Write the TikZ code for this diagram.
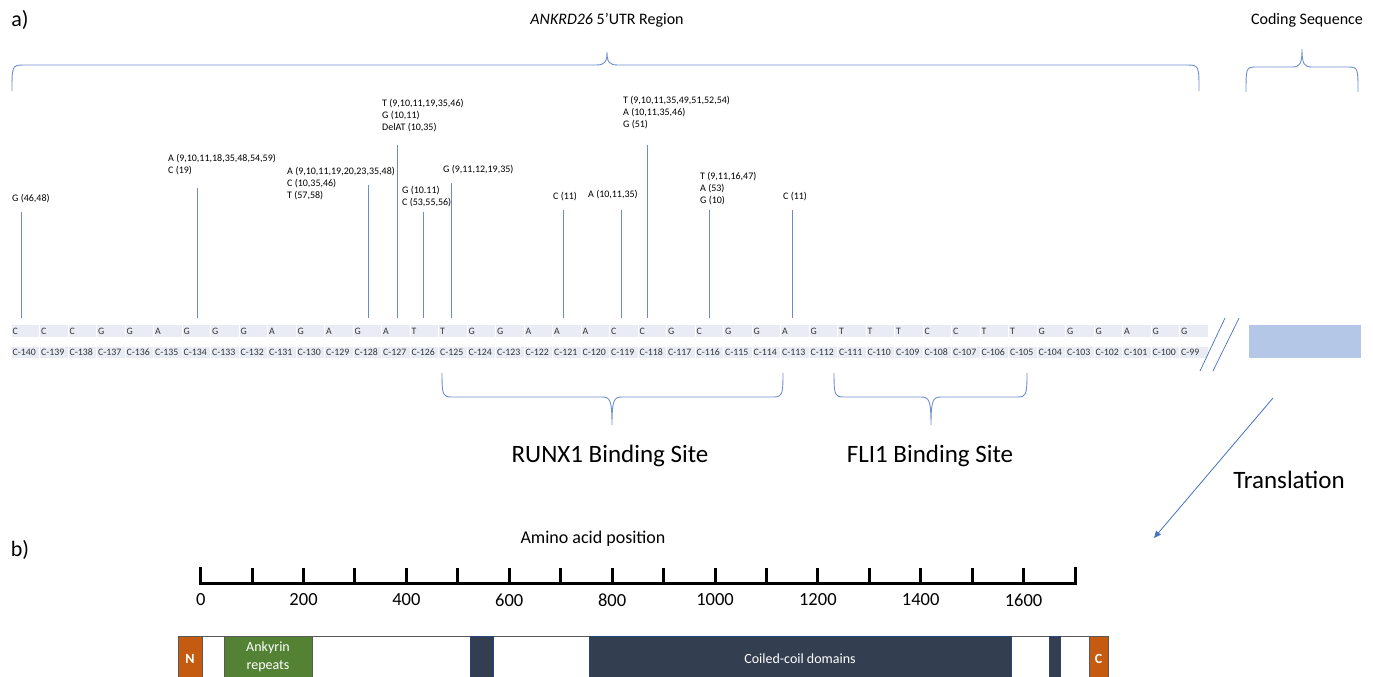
\documentclass[tikz,border=0pt]{standalone}
\usepackage{fontspec}
\setmainfont{Carlito}
\usetikzlibrary{arrows.meta}

\definecolor{accentblue}{HTML}{4472C4}
\definecolor{markblue}{HTML}{6A8CCD}
\definecolor{braceblue}{HTML}{6F8FCF}
\definecolor{cellfill}{RGB}{233,236,245}
\definecolor{cellink}{HTML}{333333}
\definecolor{cdsblue}{HTML}{B4C7E7}
\definecolor{termorange}{HTML}{C55A11}
\definecolor{ankgreen}{HTML}{548235}
\definecolor{coilnavy}{HTML}{333F50}

\tikzset{
  every node/.style={inner sep=0pt, text=cellink},
  panellabel/.style={font=\fontsize{22}{26}\selectfont, text=black},
  headlabel/.style={font=\fontsize{16}{19}\selectfont, text=black},
  sitelabel/.style={font=\fontsize{25}{29}\selectfont, text=black},
  varlabel/.style={font=\fontsize{10}{12}\selectfont, align=left, anchor=north west, text=black},
  varline/.style={draw=markblue, line width=0.8pt},
  bracepath/.style={draw=braceblue, line width=0.9pt},
  basecell/.style={fill=cellfill, font=\fontsize{9.8}{11}\selectfont, text width=25.6pt,
    align=left, inner xsep=1pt, minimum height=11.5pt, anchor=west},
  protbox/.style={draw=gray!70!black, line width=0.5pt},
  domtext/.style={text=white, font=\fontsize{14}{16}\selectfont, align=center},
  ruler/.style={line width=3pt, black},
  rulerlabel/.style={font=\fontsize{18.5}{22}\selectfont, text=black}
}

\begin{document}
\begin{tikzpicture}[x=1pt, y=-1pt]
\useasboundingbox (0,0) rectangle (1373,677);

% ---------- panel a ----------
\node[panellabel] (pa) at (20,20) {a)};
\node[headlabel] (utrlabel) at (607,20) {\textit{ANKRD26} 5\textquoteright UTR Region};
\node[headlabel] (cdslabel) at (1307,20) {Coding Sequence};

% upper braces (tip pointing up)
\draw[bracepath] (12,91) .. controls (12,66) and (12,65) .. (24,65) -- (596,65)
  .. controls (605,65) and (607,62) .. (607,52)
  .. controls (607,62) and (609,65) .. (618,65) -- (1187,65)
  .. controls (1199,65) and (1199,66) .. (1199,91);
\draw[bracepath] (1246,92) .. controls (1246,68) and (1246,67) .. (1256,67) -- (1292,67)
  .. controls (1300,67) and (1302,64) .. (1302,49)
  .. controls (1302,64) and (1304,67) .. (1312,67) -- (1348,67)
  .. controls (1358,67) and (1358,68) .. (1358,92);

% sequence rows
\foreach \b [count=\i from 0] in {C,C,C,G,G,A,G,G,G,A,G,A,G,A,T,T,G,G,A,A,A,C,C,G,C,G,G,A,G,T,T,T,C,C,T,T,G,G,G,A,G,G}{
  \pgfmathtruncatemacro\pos{140-\i}
  \node[basecell] (b\pos) at ({11.5+28.5*\i},331) {\b};
  \node[basecell] (p\pos) at ({11.5+28.5*\i},352.5) {C-\pos};
}

% variant annotations
\node[varlabel] (v140) at (12,194) {G (46,48)};
\node[varlabel] (v134) at (168,154) {A (9,10,11,18,35,48,54,59)\\C (19)};
\node[varlabel] (v128) at (287,167) {A (9,10,11,19,20,23,35,48)\\C (10,35,46)\\T (57,58)};
\node[varlabel] (v127) at (382,99) {T (9,10,11,19,35,46)\\G (10,11)\\DelAT (10,35)};
\node[varlabel] (v126) at (402,186) {G (10.11)\\C (53,55,56)};
\node[varlabel] (v125) at (443,165) {G (9,11,12,19,35)};
\node[varlabel] (v121) at (553,192) {C (11)};
\node[varlabel] (v119) at (588,190) {A (10,11,35)};
\node[varlabel] (v118) at (623,96) {T (9,10,11,35,49,51,52,54)\\A (10,11,35,46)\\G (51)};
\node[varlabel] (v116) at (700,172) {T (9,11,16,47)\\A (53)\\G (10)};
\node[varlabel] (v113) at (783,192) {C (11)};

\foreach \x/\top in {21/212, 197/188, 368/185, 397/145, 423/212, 451/183, 563/210, 621/210, 647/145, 709/210, 792/210}{
  \draw[varline] (\x,\top) -- (\x,318);
}

% break marks and coding block
\coordinate (brkA1) at (1225,318); \coordinate (brkA2) at (1200,371);
\coordinate (brkB1) at (1239,318); \coordinate (brkB2) at (1213,371);
\draw[accentblue, line width=0.7pt] (brkA1) -- (brkA2);
\draw[accentblue, line width=0.7pt] (brkB1) -- (brkB2);
\node[fill=cdsblue, minimum width=112pt, minimum height=33pt, anchor=north west] (cds) at (1249,325) {};

% lower braces (tip pointing down)
\draw[bracepath] (442,373) .. controls (442,396) and (443,397) .. (452,397) -- (602,397)
  .. controls (610,397) and (612,400) .. (612,425)
  .. controls (612,400) and (614,397) .. (622,397) -- (773,397)
  .. controls (782,397) and (783,396) .. (783,373);
\draw[bracepath] (834,373) .. controls (834,396) and (835,397) .. (844,397) -- (921,397)
  .. controls (929,397) and (931,400) .. (931,425)
  .. controls (931,400) and (933,397) .. (941,397) -- (1017,397)
  .. controls (1026,397) and (1027,396) .. (1027,373);
\node[sitelabel] (runx) at (610,456) {RUNX1 Binding Site};
\node[sitelabel] (fli) at (930,456) {FLI1 Binding Site};
\node[sitelabel] (trans) at (1289,480) {Translation};

% translation arrow
\coordinate (trStart) at (1273,398);
\coordinate (trEnd) at (1154,538);
\draw[accentblue, line width=0.8pt, -{Triangle[length=7pt,width=6pt]}] (trStart) -- (trEnd);

% ---------- panel b ----------
\node[panellabel] (pb) at (20,550) {b)};
\node[font=\fontsize{18}{21}\selectfont, text=black] (aalabel) at (593,539) {Amino acid position};

% scale bar
\draw[ruler, line cap=rect] (200.7,568) -- (200.7,583) -- (1075,583) -- (1075,568);
\foreach \k in {1,...,16}{
  \draw[ruler] ({200.7+51.43*\k},568) -- ({200.7+51.43*\k},583);
}
\foreach \k in {0,2,...,16}{
  \pgfmathtruncatemacro\lab{100*\k}
  \node[rulerlabel] (tick\lab) at ({200.7+51.43*\k},600) {\lab};
}

% protein domain bar
\begin{scope}
\clip (0,0) rectangle (1373,677);
\draw[protbox, fill=white] (178,636) rectangle (1108,700);
\draw[protbox, fill=termorange] (178,636) rectangle (202,700);
\draw[protbox, fill=ankgreen] (224,636) rectangle (312,700);
\draw[protbox, draw=accentblue!60!black, fill=coilnavy] (470,636) rectangle (493,700);
\draw[protbox, draw=accentblue!60!black, fill=coilnavy] (589,636) rectangle (1011,700);
\draw[protbox, draw=accentblue!60!black, fill=coilnavy] (1049,636) rectangle (1060,700);
\draw[protbox, fill=termorange] (1089,636) rectangle (1108,700);
\end{scope}
\node[domtext, font=\fontsize{14}{16}\selectfont\bfseries] (nterm) at (190,659) {N};
\node[domtext, font=\fontsize{14}{17.5}\selectfont] (ank) at (268,657) {Ankyrin\\repeats};
\node[domtext] (coil) at (800,659) {Coiled-coil domains};
\node[domtext, font=\fontsize{14}{16}\selectfont\bfseries] (cterm) at (1098.5,659) {C};
\end{tikzpicture}
\end{document}
